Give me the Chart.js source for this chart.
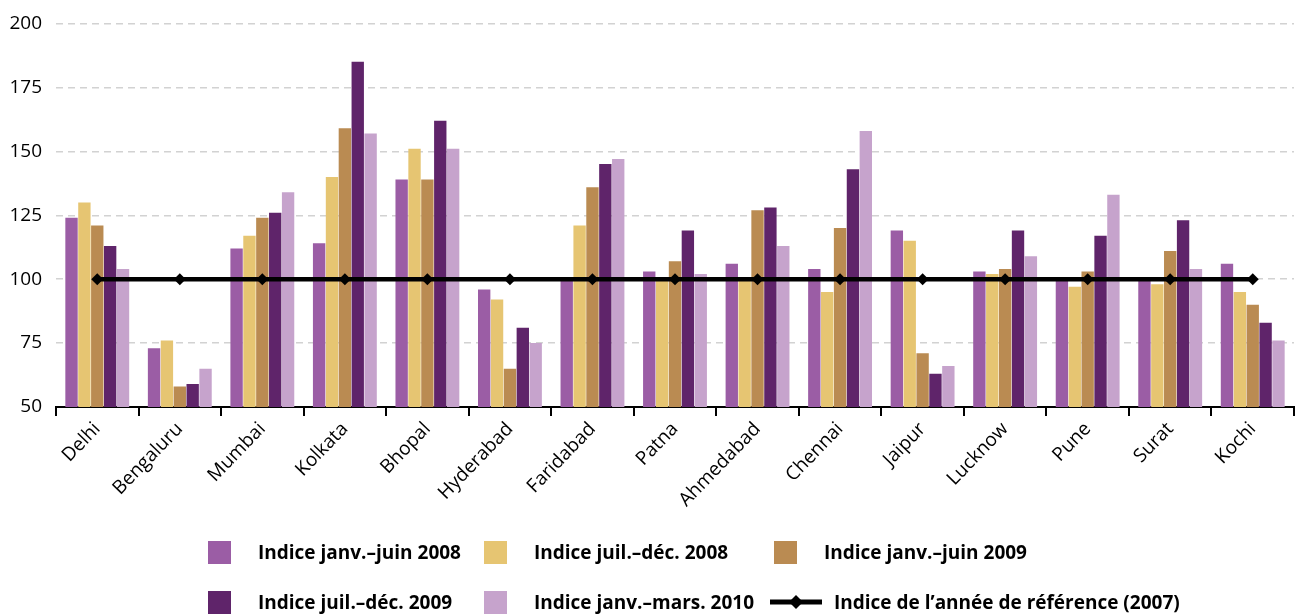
<!DOCTYPE html>
<html lang="fr">
<head>
  <meta charset="UTF-8">
  <title>Indices par ville</title>
  <script src="https://cdn.jsdelivr.net/npm/chart.js"></script>
  <style>
    body { margin: 0; background: #fff; }
    .wrap { position: relative; width: 1300px; height: 615px; }
    #chart { position: absolute; left: 0; top: 0; }
    .legend { position: absolute; left: 0; top: 0; width: 1300px; height: 615px; pointer-events: none;
      font-family: "Open Sans", sans-serif; font-weight: bold; font-size: 19px; color: #000; }
    .item { position: absolute; display: flex; align-items: center; }
    .box { width: 23px; height: 23px; margin-right: 27px; }
    .mark { width: 52px; height: 24px; margin-right: 12px; }
  </style>
</head>
<body>
<div class="wrap">
  <canvas id="chart" width="1300" height="615"></canvas>
  <div class="legend" id="legend"></div>
</div>
<script>
// categories and values
const cities = ['Delhi', 'Bengaluru', 'Mumbai', 'Kolkata', 'Bhopal', 'Hyderabad', 'Faridabad', 'Patna',
  'Ahmedabad', 'Chennai', 'Jaipur', 'Lucknow', 'Pune', 'Surat', 'Kochi'];
const janJun2008 = [124, 73, 112, 114, 139, 96, 100, 103, 106, 104, 119, 103, 100, 100, 106];
const julDec2008 = [130, 76, 117, 140, 151, 92, 121, 100, 100, 95, 115, 102, 97, 98, 95];
const janJun2009 = [121, 58, 124, 159, 139, 65, 136, 107, 127, 120, 71, 104, 103, 111, 90];
const julDec2009 = [113, 59, 126, 185, 162, 81, 145, 119, 128, 143, 63, 119, 117, 123, 83];
const janMar2010 = [104, 65, 134, 157, 151, 75, 147, 102, 113, 158, 66, 109, 133, 104, 76];
const base2007 = [100, 100, 100, 100, 100, 100, 100, 100, 100, 100, 100, 100, 100, 100, 100];
const yTicks = [50, 75, 100, 125, 150, 175, 200];

const labels = ['Indice janv.–juin 2008', 'Indice juil.–déc. 2008', 'Indice janv.–juin 2009',
  'Indice juil.–déc. 2009', 'Indice janv.–mars. 2010', 'Indice de l’année de référence (2007)'];
const colors = ['#9b5da5', '#e6c572', '#ba8b52', '#5f246a', '#c6a3cc'];

const fontFam = '"Open Sans", sans-serif';

function bar(i, data) {
  return { type: 'bar', label: labels[i], data: data, backgroundColor: colors[i],
    borderWidth: 0, barPercentage: 0.96, categoryPercentage: 0.78, order: 2 };
}

const ctx = document.getElementById('chart').getContext('2d');
new Chart(ctx, {
  data: {
    labels: cities,
    datasets: [
      bar(0, janJun2008), bar(1, julDec2008), bar(2, janJun2009), bar(3, julDec2009), bar(4, janMar2010),
      { type: 'line', label: labels[5], data: base2007, borderColor: '#000', backgroundColor: '#000',
        borderWidth: 4.5, pointStyle: 'rectRot', pointRadius: 6, pointBorderWidth: 0, order: 0 }
    ]
  },
  options: {
    responsive: false,
    animation: false,
    layout: { padding: { top: 6, right: 5, left: 0, bottom: 0 } },
    plugins: { legend: { display: false }, tooltip: { enabled: false } },
    scales: {
      x: {
        offset: true,
        grid: { offset: true, drawOnChartArea: false, color: '#000', lineWidth: 2, tickLength: 9 },
        border: { display: true, color: '#000', width: 2 },
        ticks: { color: '#000', font: { family: fontFam, size: 19 }, minRotation: 46, maxRotation: 46, padding: 2 },
        afterFit: s => { s.height = 208; }
      },
      y: {
        min: 50, max: 200,
        afterBuildTicks: s => { s.ticks = yTicks.map(v => ({ value: v })); },
        grid: { color: ctx => ctx.tick.value === 50 ? 'rgba(0,0,0,0)' : '#d2d2d2', drawTicks: false, lineWidth: 1.5 },
        border: { display: false, dash: [7, 5] },
        ticks: { color: '#000', font: { family: fontFam, size: 19, lineHeight: 1 }, padding: 14 },
        afterFit: s => { s.width = 56; }
      }
    }
  }
});

// legend laid out as in the picture
const legendPos = [[208, 551], [484, 551], [774, 551], [208, 601], [484, 601], [770, 601]];
const leg = document.getElementById('legend');
labels.forEach((t, i) => {
  const it = document.createElement('div');
  it.className = 'item';
  it.style.left = legendPos[i][0] + 'px';
  it.style.top = (legendPos[i][1] - 12) + 'px';
  if (i < 5) {
    it.innerHTML = '<span class="box" style="background:' + colors[i] + '"></span><span>' + t + '</span>';
  } else {
    it.innerHTML = '<svg class="mark" viewBox="0 0 52 24"><line x1="0" y1="12" x2="52" y2="12" stroke="#000" stroke-width="5"/>' +
      '<polygon points="26,5 33,12 26,19 19,12" fill="#000"/></svg><span>' + t + '</span>';
  }
  leg.appendChild(it);
});
</script>
</body>
</html>
